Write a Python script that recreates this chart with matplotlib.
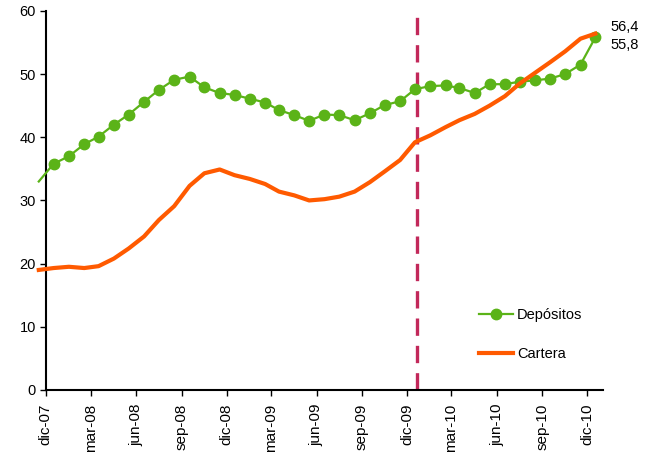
import pandas as pd
import numpy as np
import matplotlib
matplotlib.use("Agg")
import matplotlib.pyplot as plt

plt.rcParams["font.family"] = ["Liberation Sans", "DejaVu Sans"]

# === Datos mensuales (nov-07 a dic-10) ===
meses = pd.period_range("2007-11", "2010-12", freq="M")

depositos = [33.0, 35.8, 37.0, 38.9, 40.1, 42.0, 43.6, 45.6, 47.5, 49.1,
             49.6, 47.9, 47.0, 46.7, 46.1, 45.5, 44.3, 43.5, 42.6, 43.6,
             43.5, 42.7, 43.8, 45.1, 45.7, 47.6, 48.1, 48.2, 47.8, 47.0,
             48.4, 48.4, 48.8, 49.0, 49.3, 50.0, 51.5, 55.8]

cartera = [19.0, 19.3, 19.5, 19.3, 19.6, 20.8, 22.4, 24.3, 26.9, 29.1,
           32.3, 34.3, 34.9, 34.0, 33.4, 32.6, 31.4, 30.8, 30.0, 30.2,
           30.6, 31.4, 32.9, 34.6, 36.4, 39.2, 40.3, 41.6, 42.7, 43.7,
           45.0, 46.5, 48.5, 50.2, 51.9, 53.6, 55.6, 56.4]

etiquetas_x = ["dic-07", "mar-08", "jun-08", "sep-08", "dic-08", "mar-09",
               "jun-09", "sep-09", "dic-09", "mar-10", "jun-10", "sep-10",
               "dic-10"]

# puntos a mitad de mes (eje de fechas tipo Excel)
fechas = meses.to_timestamp() + pd.Timedelta(days=16)
ticks = pd.date_range("2007-12-01", "2010-12-01", freq="3MS")

fig = plt.figure(figsize=(6.5, 4.54), dpi=100)
ax = fig.add_axes([0.0703, 0.141, 0.857, 0.835])

ax.plot(fechas, depositos, color="#5BB318", lw=1.6, marker="o", ms=7.5,
        markevery=list(range(1, len(fechas))), clip_on=False, label="Depósitos",
        zorder=3)
ax.plot(fechas, cartera, color="#FF5A00", lw=3.0, clip_on=False,
        label="Cartera", zorder=4)

# cambio de fase (dic-09)
ax.axvline(fechas[25] + pd.Timedelta(days=4), color="#C2285A", lw=2.4,
           dashes=(5.2, 3), zorder=2)

ax.annotate("56,4", (fechas[-1], cartera[-1]), xytext=(15, 7),
            textcoords="offset pixels", fontsize=10.5, va="center", ha="left")
ax.annotate("55,8", (fechas[-1], depositos[-1]), xytext=(15, -8),
            textcoords="offset pixels", fontsize=10.5, va="center", ha="left")

ax.set_xlim(pd.Timestamp("2007-12-01"), pd.Timestamp("2011-01-01"))
ax.set_ylim(0, 60)
ax.set_yticks(np.arange(0, 61, 10))
ax.set_xticks(ticks)
ax.set_xticklabels(etiquetas_x, rotation=90, fontsize=11)
ax.tick_params(axis="y", labelsize=10.5, length=4, width=1, pad=3)
ax.tick_params(axis="x", length=4, width=1, pad=6)

for s in ["top", "right"]:
    ax.spines[s].set_visible(False)
for s in ["left", "bottom"]:
    ax.spines[s].set_linewidth(1.5)

ax.legend(loc="upper left", bbox_to_anchor=(0.717, 0.35),
          bbox_transform=fig.transFigure, frameon=False, fontsize=10.5,
          handlelength=2.3, labelspacing=1.7, handletextpad=0.3)

plt.savefig("out.png", dpi=100)
